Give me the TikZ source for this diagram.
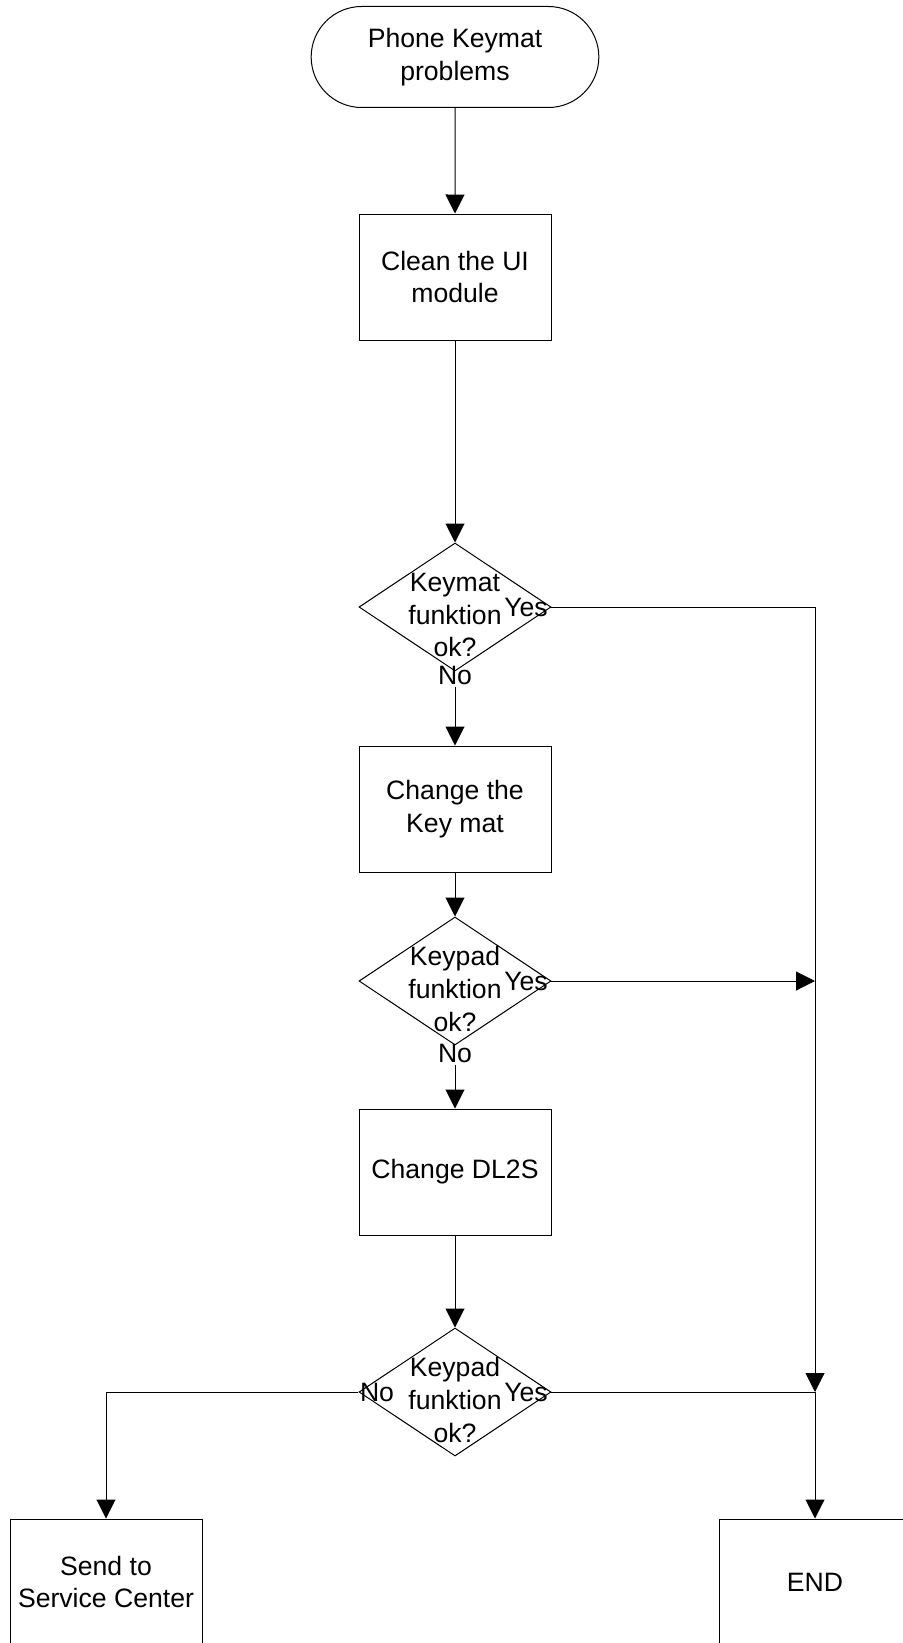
\documentclass[tikz,border=0pt]{standalone}
\usepackage{fontspec}
\setmainfont{Liberation Sans}
\usetikzlibrary{shapes.geometric, shapes.misc, arrows.meta}

\begin{document}
\begin{tikzpicture}[x=0.5pt, y=-0.5pt,
    every node/.style={font=\fontsize{13.3pt}{16.4pt}\selectfont},
    terminal/.style={draw, rounded rectangle, align=center, minimum width=150.5pt, minimum height=50.5pt, line width=0.5pt},
    process/.style={draw, align=center, minimum width=96pt, minimum height=63pt, line width=0.5pt},
    decision/.style={draw, diamond, minimum width=96pt, minimum height=64pt, inner sep=0pt, line width=0.5pt},
    answer/.style={inner sep=1pt},
    flow/.style={line width=0.5pt, -{Triangle[length=9.5pt, width=9.5pt]}}]
    \useasboundingbox (0,0) rectangle (903,1643);

    % Start and the first step
    \node[terminal] (start) at (455,57) {Phone Keymat\\problems};
    \node[process] (clean) at (455,277) {Clean the UI\\module};

    % First question
    \node[decision, label={[align=center, yshift=-4pt]center:{Keymat\\funktion\\ok?}}] (keymat) at (455,607) {};
    \node[answer] (yes1) at (526,607) {Yes};
    \node[answer] (no1) at (455,675) {No};

    % Change the key mat and ask again
    \node[process] (keymatbox) at (455,809) {Change the\\Key mat};
    \node[decision, label={[align=center, yshift=-4pt]center:{Keypad\\funktion\\ok?}}] (keypad1) at (455,981) {};
    \node[answer] (yes2) at (526,981) {Yes};
    \node[answer] (no2) at (455,1053) {No};

    % Change DL2S and ask a last time
    \node[process] (dl2s) at (455,1172) {Change DL2S};
    \node[decision, label={[align=center, yshift=-4pt]center:{Keypad\\funktion\\ok?}}] (keypad2) at (455,1392) {};
    \node[answer] (yes3) at (526,1392) {Yes};
    \node[answer] (no3) at (377,1392) {No};

    % The two ends
    \node[process] (service) at (106,1582) {Send to\\Service Center};
    \node[process] (finish) at (815,1582) {END};

    % Points on the Yes line
    \coordinate (j1) at (815,607);
    \coordinate (j2) at (815,981);
    \coordinate (j3) at (815,1392);

    % Connectors
    \draw[flow] (start) -- (clean);
    \draw[flow] (clean) -- (keymat);
    \draw[flow] (no1) -- (keymatbox);
    \draw[flow] (keymatbox) -- (keypad1);
    \draw[flow] (no2) -- (dl2s);
    \draw[flow] (dl2s) -- (keypad2);
    \draw[flow] (yes1) -- (j1) -- (j3);
    \draw[flow] (yes2) -- (j2);
    \draw[flow] (yes3) -- (j3) -- (finish);
    \draw[flow] (no3) -| (service);
\end{tikzpicture}
\end{document}
